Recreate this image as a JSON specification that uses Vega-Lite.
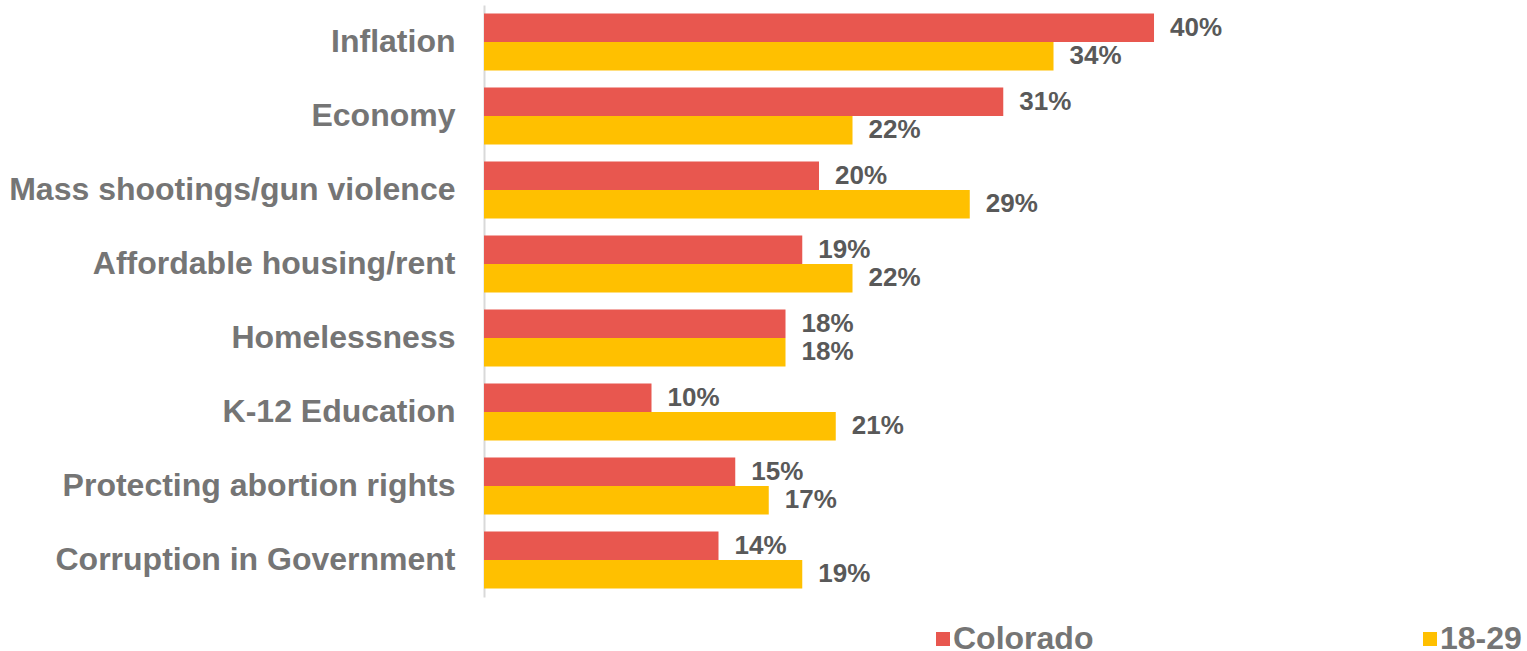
{
  "$schema": "https://vega.github.io/schema/vega-lite/v6.json",
  "width": 1000,
  "height": 592,
  "autosize": {"type": "none"},
  "padding": {"left": 484, "top": 5, "right": 43, "bottom": 54},
  "background": "white",
  "data": {
    "values": [
      {"issue": "Inflation", "group": "Colorado", "value": 0.40},
      {"issue": "Inflation", "group": "18-29", "value": 0.34},
      {"issue": "Economy", "group": "Colorado", "value": 0.31},
      {"issue": "Economy", "group": "18-29", "value": 0.22},
      {"issue": "Mass shootings/gun violence", "group": "Colorado", "value": 0.20},
      {"issue": "Mass shootings/gun violence", "group": "18-29", "value": 0.29},
      {"issue": "Affordable housing/rent", "group": "Colorado", "value": 0.19},
      {"issue": "Affordable housing/rent", "group": "18-29", "value": 0.22},
      {"issue": "Homelessness", "group": "Colorado", "value": 0.18},
      {"issue": "Homelessness", "group": "18-29", "value": 0.18},
      {"issue": "K-12 Education", "group": "Colorado", "value": 0.10},
      {"issue": "K-12 Education", "group": "18-29", "value": 0.21},
      {"issue": "Protecting abortion rights", "group": "Colorado", "value": 0.15},
      {"issue": "Protecting abortion rights", "group": "18-29", "value": 0.17},
      {"issue": "Corruption in Government", "group": "Colorado", "value": 0.14},
      {"issue": "Corruption in Government", "group": "18-29", "value": 0.19}
    ]
  },
  "encoding": {
    "y": {
      "field": "issue",
      "type": "nominal",
      "sort": null,
      "scale": {"paddingInner": 0.23, "paddingOuter": 0.115},
      "axis": {
        "title": null,
        "ticks": false,
        "domainColor": "#D9D9D9",
        "domainWidth": 2,
        "labelPadding": 29,
        "labelFont": "Liberation Sans",
        "labelFontWeight": "bold",
        "labelFontSize": 32,
        "labelColor": "#757575",
        "labelLimit": 800
      }
    },
    "yOffset": {"field": "group", "type": "nominal", "sort": ["Colorado", "18-29"], "scale": {"paddingInner": 0, "paddingOuter": 0}},
    "x": {"field": "value", "type": "quantitative", "scale": {"domain": [0, 0.597]}, "axis": null}
  },
  "layer": [
    {
      "mark": {"type": "bar"},
      "encoding": {
        "color": {
          "field": "group",
          "type": "nominal",
          "scale": {"domain": ["Colorado", "18-29"], "range": ["#E8574F", "#FFC000"]},
          "legend": {
            "title": null,
            "orient": "none",
            "legendX": 443,
            "legendY": 618,
            "direction": "horizontal",
            "columns": 2,
            "columnPadding": 320,
            "symbolType": "square",
            "symbolSize": 196,
            "symbolStrokeWidth": 0,
            "labelFont": "Liberation Sans",
            "labelFontWeight": "bold",
            "labelFontSize": 32,
            "labelColor": "#757575",
            "labelOffset": -6
          }
        }
      }
    },
    {
      "mark": {"type": "text", "align": "left", "baseline": "middle", "dx": 16, "font": "Liberation Sans", "fontWeight": "bold", "fontSize": 26, "fill": "#595959"},
      "encoding": {"text": {"field": "value", "type": "quantitative", "format": ".0%"}}
    }
  ],
  "config": {"view": {"stroke": null}}
}
